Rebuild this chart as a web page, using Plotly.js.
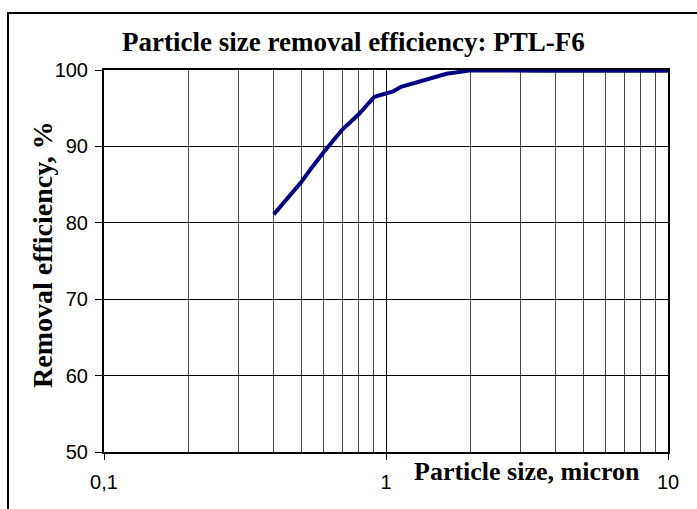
<!DOCTYPE html>
<html>
<head>
<meta charset="utf-8">
<script src="https://cdn.plot.ly/plotly-3.0.1.min.js"></script>
<style>
  html, body { margin: 0; padding: 0; background: #fff; }
  #chart { width: 697px; height: 509px; }
</style>
</head>
<body>
<div id="chart"></div>
<script>
// Data
const particleSize = [0.4, 0.5, 0.54, 0.6, 0.7, 0.8, 0.91, 1.0, 1.06, 1.13, 1.37, 1.64, 2.0, 3.0, 3.5, 5, 7, 10];
const efficiency   = [81.1, 85.3, 87.0, 89.2, 92.2, 94.2, 96.5, 97.0, 97.2, 97.8, 98.7, 99.5, 99.95, 100, 99.9, 99.9, 99.9, 99.9];

const xTickVals = [0.1, 1, 10];
const xTickText = ["0,1", "1", "10"];
const xMinorVals = [0.2, 0.3, 0.4, 0.5, 0.6, 0.7, 0.8, 0.9, 2, 3, 4, 5, 6, 7, 8, 9];
const yTickVals = [50, 60, 70, 80, 90, 100];

const chartTitle = "Particle size removal efficiency: PTL-F6";
const xTitle = "Particle size, micron";
const yTitle = "Removal efficiency, %";

const W = 697, H = 509;
const L = 104, R = 668, T = 70, B = 452;
const pw = R - L, ph = B - T;
const px = v => (v - L) / pw;
const py = v => (B - v) / ph;

const serif = "Liberation Serif, Times New Roman, serif";
const sans = "Liberation Sans, Arial, sans-serif";

const trace = {
  x: particleSize,
  y: efficiency,
  type: "scatter",
  mode: "lines",
  line: { color: "#000080", width: 4 },
  hoverinfo: "x+y"
};

const layout = {
  width: W, height: H,
  margin: { l: L, r: W - R, t: T, b: H - B, pad: 0 },
  paper_bgcolor: "#fff",
  plot_bgcolor: "#fff",
  showlegend: false,
  xaxis: {
    type: "log",
    range: [-1, 1],
    tickmode: "array",
    tickvals: xTickVals,
    ticktext: xTickText,
    ticks: "outside",
    ticklen: 6,
    tickwidth: 1,
    tickcolor: "#000",
    ticklabelstandoff: 5,
    tickfont: { family: sans, size: 20, color: "#000" },
    showgrid: true,
    gridcolor: "#000",
    gridwidth: 1,
    minor: { tickvals: xMinorVals, showgrid: true, gridcolor: "#484848", gridwidth: 1, ticks: "" },
    showline: true,
    linecolor: "#000",
    linewidth: 2,
    mirror: true,
    zeroline: false
  },
  yaxis: {
    range: [50, 100],
    tickmode: "array",
    tickvals: yTickVals,
    ticks: "outside",
    ticklen: 7,
    tickwidth: 1,
    tickcolor: "#000",
    ticklabelstandoff: 3,
    tickfont: { family: sans, size: 20, color: "#000" },
    showgrid: true,
    gridcolor: "#000",
    gridwidth: 1,
    showline: true,
    linecolor: "#000",
    linewidth: 2,
    mirror: true,
    zeroline: false
  },
  annotations: [
    {
      text: "<b>" + chartTitle + "</b>",
      xref: "paper", yref: "paper",
      x: px(353), y: py(42),
      xanchor: "center", yanchor: "middle",
      showarrow: false,
      font: { family: serif, size: 27, color: "#000" }
    },
    {
      text: "<b>" + xTitle + "</b>",
      xref: "paper", yref: "paper",
      x: px(527), y: py(471),
      xanchor: "center", yanchor: "middle",
      showarrow: false,
      font: { family: serif, size: 26, color: "#000" }
    },
    {
      text: "<b>" + yTitle + "</b>",
      xref: "paper", yref: "paper",
      x: px(42), y: py(255),
      xanchor: "center", yanchor: "middle",
      textangle: -90,
      showarrow: false,
      font: { family: serif, size: 28, color: "#000" }
    }
  ],
  shapes: [
    {
      type: "rect", xref: "paper", yref: "paper",
      x0: px(8), y0: py(H + 20), x1: px(W + 20), y1: py(13),
      line: { color: "#000", width: 2 },
      fillcolor: "rgba(0,0,0,0)",
      layer: "above"
    }
  ]
};

Plotly.newPlot("chart", [trace], layout, { staticPlot: true, displayModeBar: false });
</script>
</body>
</html>
